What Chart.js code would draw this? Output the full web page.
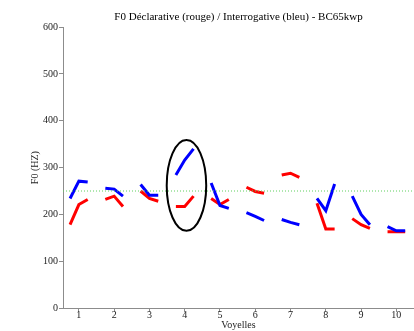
<!DOCTYPE html>
<html>
<head>
<meta charset="utf-8">
<script src="https://cdn.jsdelivr.net/npm/chart.js@4"></script>
<style>
    html, body { margin: 0; padding: 0; background: #fff; }
    #wrap { width: 414px; height: 331px; }
</style>
</head>
<body>
<div id="wrap"><canvas id="f0Chart"></canvas></div>
<script>
// Data
const vowels = [1, 2, 3, 4, 5, 6, 7, 8, 9, 10];
const pointOffsets = [-0.25, 0, 0.25];   // start / middle / end of each vowel
const blueF0 = [
    [234, 271, 269], [256, 254, 239], [264, 241, 241], [284, 316, 340], [267, 219, 213],
    [204, 196, 187], [189, 183, 178], [234, 208, 265], [239, 200, 178], [174, 165, 165]
];
const redF0 = [
    [178, 221, 232], [232, 239, 217], [250, 234, 228], [217, 217, 239], [234, 221, 232],
    [258, 249, 245], [284, 288, 279], [224, 169, 169], [191, 178, 170], [163, 163, 163]
];
const refLevel = 250;
const yTicks = [0, 100, 200, 300, 400, 500, 600];
const xRange = [0.55, 10.5];
// circled vowel: centre x, centre y, half width (vowel units), half height (Hz)
const circle = { x: 4.05, y: 262, rx: 0.56, ry: 97 };

const SERIF = "'Liberation Serif', 'DejaVu Serif', serif";
const AXIS_GREY = '#8c8c8c';

function toPoints(series) {
    const pts = [];
    vowels.forEach((v, i) => {
        pointOffsets.forEach((off, j) => pts.push({ x: v + off, y: series[i][j] }));
        pts.push({ x: v + 0.5, y: null });   // break between vowels
    });
    return pts;
}

// keep the title centred over the plot like the original
const titleOverPlot = {
    id: 'titleOverPlot',
    afterLayout(chart) {
        if (chart.titleBlock) chart.titleBlock.left = chart.chartArea.left;
    }
};

const ellipseMark = {
    id: 'ellipseMark',
    afterDatasetsDraw(chart) {
        const { ctx, scales: { x, y } } = chart;
        const cx = x.getPixelForValue(circle.x);
        const cy = y.getPixelForValue(circle.y);
        const rx = Math.abs(x.getPixelForValue(circle.x + circle.rx) - cx);
        const ry = Math.abs(y.getPixelForValue(circle.y + circle.ry) - cy);
        ctx.save();
        ctx.beginPath();
        ctx.ellipse(cx, cy, rx, ry, 0, 0, Math.PI * 2);
        ctx.lineWidth = 2;
        ctx.strokeStyle = '#000';
        ctx.stroke();
        ctx.restore();
    }
};

new Chart(document.getElementById('f0Chart'), {
    type: 'line',
    data: {
        datasets: [
            {
                label: 'ref',
                data: [{ x: xRange[0], y: refLevel }, { x: xRange[1], y: refLevel }],
                borderColor: '#5fcf5f',
                borderWidth: 1,
                borderDash: [1, 2],
                pointRadius: 0
            },
            {
                label: 'Interrogative',
                data: toPoints(blueF0),
                borderColor: '#0000ff',
                borderWidth: 3,
                pointRadius: 0,
                spanGaps: false
            },
            {
                label: 'Déclarative',
                data: toPoints(redF0),
                borderColor: '#ff0000',
                borderWidth: 3,
                pointRadius: 0,
                spanGaps: false
            }
        ]
    },
    options: {
        responsive: true,
        maintainAspectRatio: false,
        animation: false,
        layout: { padding: { left: 22, right: 0, top: 0, bottom: 0 } },
        plugins: {
            legend: { display: false },
            tooltip: { enabled: false },
            title: {
                display: true,
                text: 'F0 Déclarative (rouge) / Interrogative (bleu) - BC65kwp',
                color: '#000',
                font: { family: SERIF, size: 11, weight: 'normal' },
                padding: { top: 11, bottom: 3 }
            }
        },
        scales: {
            x: {
                type: 'linear',
                min: xRange[0],
                max: xRange[1],
                afterBuildTicks: scale => { scale.ticks = vowels.map(v => ({ value: v })); },
                grid: { drawOnChartArea: false, drawTicks: true, tickLength: 4, color: AXIS_GREY },
                border: { display: true, color: AXIS_GREY },
                ticks: { color: '#222', padding: -3, font: { family: SERIF, size: 10 } },
                title: {
                    display: true, text: 'Voyelles', color: '#222',
                    font: { family: SERIF, size: 10 }, padding: { top: 1, bottom: 0 }
                }
            },
            y: {
                min: 0,
                max: 600,
                afterBuildTicks: scale => { scale.ticks = yTicks.map(v => ({ value: v })); },
                grid: { drawOnChartArea: false, drawTicks: true, tickLength: 4, color: AXIS_GREY },
                border: { display: true, color: AXIS_GREY },
                ticks: { color: '#222', padding: 1, font: { family: SERIF, size: 10 } },
                title: {
                    display: true, text: 'F0 (HZ)', color: '#222',
                    font: { family: SERIF, size: 10 }, padding: { top: 7, bottom: 1 }
                }
            }
        }
    },
    plugins: [titleOverPlot, ellipseMark]
});
</script>
</body>
</html>
